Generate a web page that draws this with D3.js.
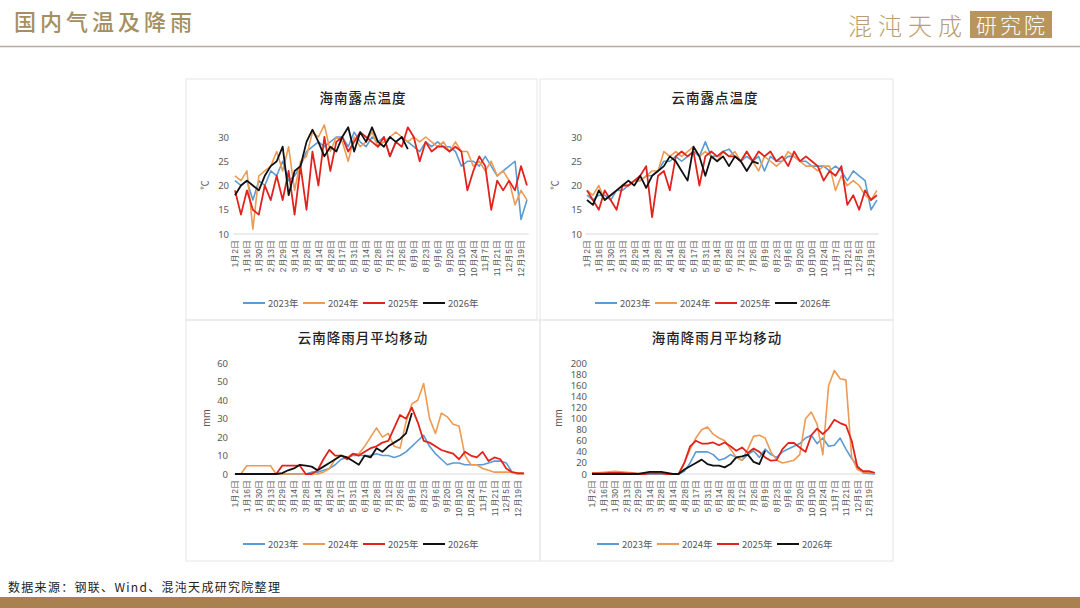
<!DOCTYPE html>
<html>
<head>
<meta charset="utf-8">
<script src="https://cdn.jsdelivr.net/npm/d3@7"></script>
<style>
  body { margin: 0; background: #fff; }
  svg { display: block; font-family: "Noto Sans CJK SC", "Noto Sans", sans-serif; }
</style>
</head>
<body>
<svg id="drawing_region"></svg>
<script>
// ---- data (one point every 7 days on a 344-day axis) ----
const years = ["2023年", "2024年", "2025年", "2026年"];
const dayIdx = [0, 7, 14, 21, 28, 35, 42, 49, 56, 63, 70, 77, 84, 91, 98, 105, 112, 119, 126, 133,
    140, 147, 154, 161, 168, 175, 182, 189, 196, 203, 210, 217, 224, 231, 238, 245, 252, 259, 266, 273,
    280, 287, 294, 301, 308, 315, 322, 329, 336, 343];
const tickIdx = [0, 14, 28, 42, 56, 70, 84, 98, 112, 126, 140, 154, 168, 182, 196, 210, 224, 238, 252, 266, 280, 294, 308, 322, 336];
const tickLabels = ["1月2日", "1月16日", "1月30日", "2月13日", "2月29日", "3月14日", "3月28日", "4月14日", "4月28日",
    "5月17日", "5月31日", "6月14日", "6月28日", "7月12日", "7月26日", "8月9日", "8月23日", "9月6日", "9月20日",
    "10月10日", "10月24日", "11月7日", "11月21日", "12月5日", "12月19日"];

// 海南露点温度 (℃)
const hainanDew2023 = [21, 20, 21, 17, 21, 20, 23, 22, 25, 21, 22, 24, 27, 28, 29, 28, 29, 30, 30, 28, 31, 29, 28, 30, 29,
    30, 26, 29, 30, 29, 28, 27, 29, 28, 29, 28, 28, 27, 24, 25, 25, 24, 26, 24, 22, 23, 24, 25, 13, 17];
const hainanDew2024 = [22, 21, 23, 11, 22, 23, 24, 27, 23, 28, 19, 25, 26, 31, 30, 32.5, 27, 30, 29, 25, 30, 28, 29, 31, 28,
    29, 30, 31, 30, 29, 30, 29, 30, 29, 28, 29, 27, 29, 27, 27, 24, 25, 23, 25, 22, 23, 21, 16, 19, 17];
const hainanDew2025 = [19, 14, 19, 15, 14, 20, 17, 22, 17, 23, 14, 24, 15, 27, 20, 30, 23, 29, 30, 27, 29, 31, 30, 29, 28,
    30, 26, 29, 28, 32, 30, 25, 29, 27, 28, 28, 27, 28, 27, 19, 23, 26, 24, 15, 21, 19, 21, 19, 24, 20];
const hainanDew2026 = [18, 20, 21, 20, 19, 22, 24, 25, 28, 18, 23, 24, 29, 31.5, 29, 26, 28, 27, 30, 32, 27, 31, 29, 32, 29,
    28, 30, 29, 30, 27.5];

// 云南露点温度 (℃)
const yunnanDew2023 = [18, 17, 18, 18, 17, 19, 19, 20, 21, 21, 22, 22, 23, 25, 25, 26, 25, 26, 27, 26, 29, 26, 26, 27, 27.5,
    26, 25, 26, 25, 26, 23, 26, 25, 25, 26, 26, 25, 25, 24, 24, 24, 23, 24, 23, 21, 23, 22, 21, 15, 17];
const yunnanDew2024 = [19, 18, 20, 17, 18, 19, 20, 20, 21, 21, 22, 23, 23, 27, 26, 27, 26, 27, 28, 26, 27, 26, 25, 27, 26,
    27, 25, 27, 25, 23, 26, 25, 24, 25, 27, 26, 25, 24, 24, 23, 24, 24, 19, 22, 20, 21, 20, 18, 17, 19];
const yunnanDew2025 = [19, 17, 15, 19, 17, 15, 20, 20, 21, 22, 24, 13.5, 22, 23, 19, 26, 27, 26, 27, 20, 26, 27, 26, 27, 26,
    26, 25, 27, 25, 27, 26, 27, 25, 26, 24, 27, 25, 26, 25, 24, 21, 23, 22, 24, 16, 18, 15, 19, 17, 18];
const yunnanDew2026 = [17, 16, 19, 17, 18, 19, 20, 21, 20, 22, 19.5, 22, 23, 24, 26, 25, 23, 21, 28, 26, 22, 26, 25, 26, 24,
    26, 25, 23, 25, 24.5];

// 云南降雨月平均移动 (mm)
const yunnanRain2023 = [0, 0, 0, 0, 0, 0, 0, 0, 0, 0, 0, 0, 0, 1, 1, 2, 3, 5, 8, 9, 10, 10, 10, 10, 11,
    10, 10, 9, 10, 12, 15, 18, 21, 15, 11, 8, 5, 6, 6, 5, 5, 5, 5, 6, 7, 7, 6, 1, 0, 0];
const yunnanRain2024 = [0, 0, 4.5, 4.5, 4.5, 4.5, 4.5, 0, 0, 0, 0, 0, 0, 0, 0, 1, 3, 8, 10, 9, 11, 11, 15, 20, 25,
    20, 22, 15, 14, 28, 38, 40, 49, 30, 22, 33, 31, 27, 26, 10, 5, 5, 3, 2, 1, 1, 1, 1, 0, 0];
const yunnanRain2025 = [0, 0, 0, 0, 0, 0, 0, 0, 4.5, 4.5, 4.5, 4.5, 0, 0, 2, 8, 13, 10, 10, 8, 11, 10, 12, 14, 15,
    17, 18, 25, 32, 30, 36, 28, 18, 17, 15, 13, 12, 11, 8, 12, 10, 9, 12, 7, 9, 8, 3, 1, 0.5, 0.5];
const yunnanRain2026 = [0, 0, 0, 0, 0, 0, 0, 0, 0.5, 2, 3, 5, 4.5, 4, 2, 4, 6, 8, 10, 9, 7, 5, 10, 9, 14,
    12, 15, 17, 19, 22, 33];

// 海南降雨月平均移动 (mm)
const hainanRain2023 = [0, 0, 0, 1, 1, 1, 1, 1, 1, 0, 0, 0, 0, 0, 0, 0, 5, 20, 40, 40, 40, 35, 25, 28, 35,
    30, 25, 35, 42, 30, 45, 35, 30, 40, 45, 50, 55, 65, 70, 55, 65, 50, 52, 65, 45, 28, 15, 2, 1, 0];
const hainanRain2024 = [2, 2, 3, 4, 5, 4, 3, 2, 1, 1, 2, 2, 2, 0, 0, 0, 20, 45, 65, 80, 85, 72, 65, 60, 45,
    30, 25, 45, 68, 70, 65, 40, 25, 20, 22, 25, 35, 100, 112, 90, 35, 160, 187, 172, 170, 30, 8, 3, 3, 1];
const hainanRain2025 = [1, 1, 1, 2, 2, 2, 1, 1, 0, 0, 1, 1, 1, 0, 0, 0, 20, 50, 60, 55, 55, 57, 52, 57, 50,
    42, 48, 38, 46, 40, 30, 24, 25, 45, 56, 56, 48, 40, 70, 82, 72, 82, 98, 92, 88, 60, 12, 5, 5, 2];
const hainanRain2026 = [0, 0, 0, 0, 0, 0, 0, 0, 0, 2, 4, 4, 4, 2, 0, 0, 8, 14, 20, 26, 18, 15, 15, 12, 18,
    30, 32, 35, 22, 18, 42];

const colors = ["#5b9bd5", "#ee9a52", "#e2231d", "#111111"];
const widths = [1.6, 1.6, 1.8, 1.8];

class PanelChart {
    constructor(config, series) {
        this.config = config;
        this.series = series;
        this.init();
    }

    init() {
        let self = this;
        let c = self.config;
        self.g = c.svg.append('g');

        self.x = d3.scaleLinear().domain([0, 336]).range(c.xRange);
        self.y = d3.scaleLinear().domain(c.yDomain).range(c.yRange);
    }

    render() {
        let self = this;
        let c = self.config;

        // panel frame
        self.g.append('rect')
            .attr('x', c.box[0]).attr('y', c.box[1])
            .attr('width', c.box[2]).attr('height', c.box[3])
            .attr('fill', 'none')
            .attr('stroke', '#e6e6e6');

        self.g.append('text')
            .attr('x', c.titleX).attr('y', c.titleY)
            .attr('text-anchor', 'middle')
            .attr('font-size', '13.5px')
            .attr('font-weight', 500)
            .attr('letter-spacing', '1px')
            .attr('fill', '#222')
            .text(c.title);

        // y axis: labels only
        let yAxis = self.g.append('g')
            .attr('transform', `translate(${c.yLabelX},0)`)
            .call(d3.axisLeft(self.y).tickValues(c.yTicks).tickSize(0).tickPadding(0));
        yAxis.select('.domain').remove();
        yAxis.selectAll('text')
            .attr('font-size', '9.5px')
            .attr('fill', '#595959')
            .attr('font-family', '"Noto Sans", sans-serif');

        self.g.append('text')
            .attr('transform', `translate(${c.unitX},${c.unitY}) rotate(-90)`)
            .attr('text-anchor', 'middle')
            .attr('font-size', '9.5px')
            .attr('fill', '#595959')
            .text(c.unit);

        // x axis
        let baseY = self.y(c.yDomain[0]);
        self.g.append('line')
            .attr('x1', self.x(-2)).attr('x2', self.x(345))
            .attr('y1', baseY).attr('y2', baseY)
            .attr('stroke', '#d9d9d9')
            .attr('stroke-width', 1);

        let xAxis = self.g.append('g')
            .attr('transform', `translate(0,${baseY})`)
            .call(d3.axisBottom(self.x).tickValues(tickIdx)
                .tickFormat((d, i) => tickLabels[i]).tickSize(0));
        xAxis.select('.domain').remove();
        xAxis.selectAll('text')
            .attr('transform', 'translate(0,6) rotate(-90)')
            .attr('x', 0).attr('y', 0).attr('dy', '0.32em')
            .attr('text-anchor', 'end')
            .attr('font-size', '8.5px')
            .attr('fill', '#595959');

        // lines
        let line = d3.line()
            .x((d, i) => self.x(dayIdx[i]))
            .y(d => self.y(d));

        self.g.selectAll('path.series')
            .data(self.series)
            .enter()
            .append('path')
            .attr('class', 'series')
            .attr('d', d => line(d))
            .attr('fill', 'none')
            .attr('stroke', (d, i) => colors[i])
            .attr('stroke-width', (d, i) => widths[i])
            .attr('stroke-linejoin', 'round');

        // legend
        let lx = c.titleX - 120;
        let legend = self.g.selectAll('g.legend')
            .data(years)
            .enter()
            .append('g')
            .attr('transform', (d, i) => `translate(${lx + i * 60},${c.legendY})`);
        legend.append('line')
            .attr('x1', 0).attr('x2', 22)
            .attr('stroke', (d, i) => colors[i])
            .attr('stroke-width', 2);
        legend.append('text')
            .attr('x', 25).attr('y', 3.5)
            .attr('font-size', '9.5px')
            .attr('fill', '#595959')
            .text(d => d);
    }
}

const svg = d3.select('#drawing_region')
    .attr('width', 1080)
    .attr('height', 608);

// header
svg.append('text')
    .attr('x', 14).attr('y', 30)
    .attr('font-size', '22px')
    .attr('font-weight', 500)
    .attr('letter-spacing', '4px')
    .attr('fill', '#a48f60')
    .text('国内气温及降雨');
svg.append('line')
    .attr('x1', 0).attr('x2', 1080)
    .attr('y1', 46.5).attr('y2', 46.5)
    .attr('stroke', '#b6ad9e')
    .attr('stroke-width', 1.5);
svg.append('text')
    .attr('x', 848).attr('y', 35)
    .attr('font-size', '24px')
    .attr('font-weight', 300)
    .attr('letter-spacing', '6px')
    .attr('fill', '#b89e72')
    .text('混沌天成');
svg.append('rect')
    .attr('x', 970).attr('y', 11)
    .attr('width', 82).attr('height', 27)
    .attr('fill', '#b8955a');
svg.append('text')
    .attr('x', 1012).attr('y', 33)
    .attr('text-anchor', 'middle')
    .attr('font-size', '21px')
    .attr('font-weight', 300)
    .attr('letter-spacing', '3px')
    .attr('fill', '#fff')
    .text('研究院');

// footer
svg.append('text')
    .attr('x', 8).attr('y', 592)
    .attr('font-size', '12px')
    .attr('letter-spacing', '1.3px')
    .attr('fill', '#222')
    .text('数据来源：钢联、Wind、混沌天成研究院整理');
svg.append('rect')
    .attr('x', 0).attr('y', 597)
    .attr('width', 1080).attr('height', 11)
    .attr('fill', '#a9814f');

const panels = [
    {
        title: '海南露点温度', titleX: 363, titleY: 103, box: [186, 79, 351, 241],
        xRange: [235, 521], yDomain: [10, 30], yRange: [234, 137], yTicks: [10, 15, 20, 25, 30],
        yLabelX: 229, unit: '℃', unitX: 208, unitY: 185, legendY: 303,
        series: [hainanDew2023, hainanDew2024, hainanDew2025, hainanDew2026]
    },
    {
        title: '云南露点温度', titleX: 715, titleY: 103, box: [540, 79, 353, 241],
        xRange: [587, 871], yDomain: [10, 30], yRange: [234, 137], yTicks: [10, 15, 20, 25, 30],
        yLabelX: 582, unit: '℃', unitX: 558, unitY: 185, legendY: 303,
        series: [yunnanDew2023, yunnanDew2024, yunnanDew2025, yunnanDew2026]
    },
    {
        title: '云南降雨月平均移动', titleX: 363, titleY: 343, box: [186, 320, 354, 241],
        xRange: [235, 518], yDomain: [0, 60], yRange: [474, 363.3], yTicks: [0, 10, 20, 30, 40, 50, 60],
        yLabelX: 228, unit: 'mm', unitX: 210, unitY: 418, legendY: 544,
        series: [yunnanRain2023, yunnanRain2024, yunnanRain2025, yunnanRain2026]
    },
    {
        title: '海南降雨月平均移动', titleX: 717, titleY: 343, box: [540, 320, 353, 241],
        xRange: [592, 869], yDomain: [0, 200], yRange: [474, 363.3], yTicks: d3.range(0, 201, 20),
        yLabelX: 587, unit: 'mm', unitX: 562, unitY: 418, legendY: 544,
        series: [hainanRain2023, hainanRain2024, hainanRain2025, hainanRain2026]
    }
];

panels.forEach(p => {
    const chart = new PanelChart(Object.assign({ svg: svg }, p), p.series);
    chart.render();
});
</script>
</body>
</html>
